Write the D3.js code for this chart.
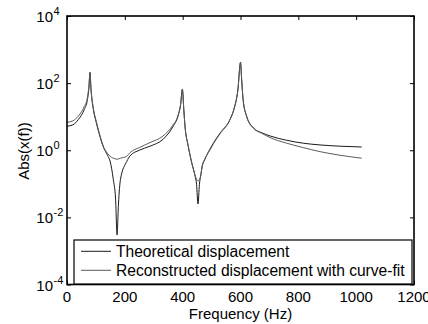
<!DOCTYPE html>
<html>
<head>
<meta charset="utf-8">
<script src="https://cdn.jsdelivr.net/npm/d3@7"></script>
<style>
  body { margin: 0; background: #fff; }
  text { font-family: Arial, "Liberation Sans", sans-serif; fill: #000; }
</style>
</head>
<body>
<svg id="chart" width="428" height="324"></svg>
<script>
////////////////////////////////////////////////////////////////////////////////
////////////////////////////////////////////////////////////////// Chart data
////////////////////////////////////////////////////////////////////////////////

// frequency samples (Hz), shared by both curves
const freq = [0, 20, 40, 60, 70, 76, 79.5, 83, 91, 100, 110, 126, 140, 149, 160, 168, 173, 178,
  185, 207, 218, 250, 287, 332, 366, 384, 393, 399, 404, 408, 419, 431, 443, 448, 453, 458, 463,
  467, 477, 494, 508, 529, 564, 577, 591, 600, 604, 609, 621, 644, 674, 702, 760, 817, 875, 944, 1019];

// Theoretical displacement |x(f)|
const theoretical = [5.2, 5.7, 8.4, 16.6, 30, 75, 210, 65, 16.6, 7.3, 3.4, 1.23, 0.71, 0.47, 0.137, 0.035, 0.003, 0.025,
  0.137, 0.47, 0.68, 1.0, 1.32, 2.12, 5.0, 10.5, 23, 66, 16, 5.3, 1.34, 0.43, 0.17, 0.097, 0.025, 0.097, 0.19,
  0.31, 0.54, 1.07, 1.73, 3.2, 8.4, 16.6, 65, 417, 130, 33, 10.5, 4.7, 3.3, 2.67, 1.98, 1.62, 1.44, 1.32, 1.25];

// Reconstructed displacement with curve-fit
const reconstructed = [6.8, 7.5, 10.6, 20.4, 35, 86, 200, 68, 18, 8, 3.7, 1.3, 0.81, 0.66, 0.58, 0.55, 0.54, 0.55,
  0.58, 0.66, 0.85, 1.2, 1.69, 2.66, 5.6, 11, 24, 64, 16, 5.4, 1.4, 0.45, 0.18, 0.137, 0.12, 0.137, 0.18,
  0.33, 0.56, 1.0, 1.65, 3.1, 8.2, 16, 62, 400, 125, 32, 10.2, 4.6, 3.2, 2.39, 1.62, 1.20, 0.91, 0.71, 0.58];

const xTicks = [0, 200, 400, 600, 800, 1000, 1200];
const yTicks = [-4, -2, 0, 2, 4];   // exponents of 10
const legendLabels = ["Theoretical displacement", "Reconstructed displacement with curve-fit"];
const seriesColors = ["#1a1a1a", "#5c5c5c"];

////////////////////////////////////////////////////////////////////////////////
////////////////////////////////////////////////////////////////// Drawing
////////////////////////////////////////////////////////////////////////////////

const box = { left: 67, right: 414, top: 16, bottom: 284.5 };
const svg = d3.select("#chart");

const xScale = d3.scaleLinear().domain([0, 1200]).range([box.left, box.right]);
const yScale = d3.scaleLog().domain([1e-4, 1e4]).range([box.bottom, box.top]);

svg.append("clipPath").attr("id", "clip")
  .append("rect")
    .attr("x", box.left).attr("y", box.top)
    .attr("width", box.right - box.left).attr("height", box.bottom - box.top);

// curves
const series = [theoretical, reconstructed];
const line = d3.line()
  .x(function(d) { return xScale(d[0]); })
  .y(function(d) { return yScale(d[1]); })
  .curve(d3.curveMonotoneX);

svg.append("g").attr("clip-path", "url(#clip)")
  .selectAll("path")
  .data(series)
  .join("path")
    .attr("fill", "none")
    .attr("stroke", function(d, i) { return seriesColors[i]; })
    .attr("stroke-width", 1)
    .attr("d", function(vals) {
      return line(freq.map(function(f, i) { return [f, vals[i]]; }));
    });

// axes, inward ticks on all four sides
const tickLen = 4;
const xAxisBottom = d3.axisBottom(xScale).tickValues(xTicks).tickSizeInner(-tickLen).tickSizeOuter(0).tickFormat("");
const xAxisTop = d3.axisTop(xScale).tickValues(xTicks).tickSizeInner(-tickLen).tickSizeOuter(0).tickFormat("");
const yVals = yTicks.map(function(e) { return Math.pow(10, e); });
const yAxisLeft = d3.axisLeft(yScale).tickValues(yVals).tickSizeInner(-tickLen).tickSizeOuter(0).tickFormat("");
const yAxisRight = d3.axisRight(yScale).tickValues(yVals).tickSizeInner(-tickLen).tickSizeOuter(0).tickFormat("");

svg.append("g").attr("transform", `translate(0,${box.bottom})`).call(xAxisBottom);
svg.append("g").attr("transform", `translate(0,${box.top})`).call(xAxisTop);
svg.append("g").attr("transform", `translate(${box.left},0)`).call(yAxisLeft);
svg.append("g").attr("transform", `translate(${box.right},0)`).call(yAxisRight);

svg.selectAll(".domain").remove();
svg.selectAll(".tick line").attr("stroke", "#000").attr("stroke-width", 1);

svg.append("rect")
  .attr("x", box.left).attr("y", box.top)
  .attr("width", box.right - box.left).attr("height", box.bottom - box.top)
  .attr("fill", "none").attr("stroke", "#000").attr("stroke-width", 1.6);

// x tick labels
svg.append("g").selectAll("text")
  .data(xTicks)
  .join("text")
    .attr("x", function(d) { return xScale(d); })
    .attr("y", 302)
    .attr("text-anchor", "middle")
    .style("font-size", "15px")
    .text(function(d) { return d; });

// y tick labels: 10 with superscript exponent
const yLab = svg.append("g").selectAll("g")
  .data(yTicks)
  .join("g")
    .attr("transform", function(e) { return `translate(0,${yScale(Math.pow(10, e))})`; });
yLab.append("text")
  .attr("x", 53).attr("y", 6)
  .attr("text-anchor", "end")
  .style("font-size", "15px")
  .text("10");
yLab.append("text")
  .attr("x", 53.5).attr("y", -1)
  .style("font-size", "11px")
  .text(function(e) { return e; });

// axis titles
svg.append("text")
  .attr("x", (box.left + box.right) / 2).attr("y", 318.5)
  .attr("text-anchor", "middle")
  .style("font-size", "15px")
  .text("Frequency (Hz)");
svg.append("text")
  .attr("transform", "translate(28.5,151) rotate(-90)")
  .attr("text-anchor", "middle")
  .style("font-size", "15px")
  .text("Abs(x(f))");

// legend
const legend = svg.append("g");
legend.append("rect")
  .attr("x", 74).attr("y", 240).attr("width", 338).attr("height", 44)
  .attr("fill", "#fff").attr("stroke", "#000").attr("stroke-width", 1.2);
const entries = legend.selectAll("g.entry")
  .data(legendLabels)
  .join("g")
    .attr("class", "entry")
    .attr("transform", function(d, i) { return `translate(0,${251.3 + i * 19})`; });
entries.append("line")
  .attr("x1", 81).attr("x2", 111)
  .attr("stroke", function(d, i) { return seriesColors[i]; })
  .attr("stroke-width", 1);
entries.append("text")
  .attr("x", 116).attr("y", 5.4)
  .style("font-size", "15.6px")
  .text(function(d) { return d; });
</script>
</body>
</html>
